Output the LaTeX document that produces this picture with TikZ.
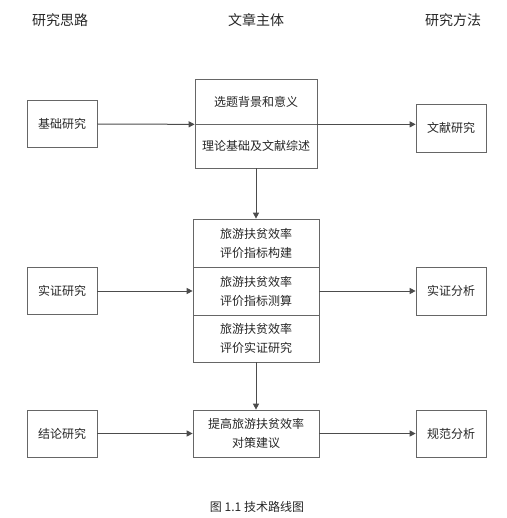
\documentclass[tikz,border=0pt]{standalone}
\usepackage{fontspec}
\setmainfont{Noto Sans CJK SC}
\usetikzlibrary{arrows.meta}
\begin{document}
\begin{tikzpicture}[x=1pt,y=-1pt,
  box/.style={draw=black!60,line width=0.7pt,inner sep=0pt,align=center,font=\fontsize{12}{19}\selectfont,text=black!85},
  side/.style={box,minimum width=70pt,minimum height=47pt},
  hdr/.style={font=\fontsize{14}{16}\selectfont,text=black!85},
  conn/.style={draw=black!70,line width=1pt,-{Triangle[length=6pt,width=6pt]}}]
\useasboundingbox (0,0) rectangle (506,518);
% headers
\node[hdr] (h1) at (60,20) {研究思路};
\node[hdr] (h2) at (256,20) {文章主体};
\node[hdr] (h3) at (453,20) {研究方法};
% left boxes
\node[side] (l1) at (62,124) {基础研究};
\node[side] (l2) at (62,291) {实证研究};
\node[side] (l3) at (62,433.5) {结论研究};
% right boxes
\node[side,minimum height=48pt] (r1) at (451,128) {文献研究};
\node[side,minimum height=48pt] (r2) at (451,291) {实证分析};
\node[side] (r3) at (451,433.5) {规范分析};
% main column
\node[box,minimum width=122pt,minimum height=45pt] (t1) at (256,101.5) {选题背景和意义};
\node[box,minimum width=122pt,minimum height=44pt] (t2) at (256,146) {理论基础及文献综述};
\node[box,minimum width=126pt,minimum height=48pt] (m1) at (256,243) {旅游扶贫效率\\评价指标构建};
\node[box,minimum width=126pt,minimum height=48pt] (m2) at (256,291) {旅游扶贫效率\\评价指标测算};
\node[box,minimum width=126pt,minimum height=47pt] (m3) at (256,338.5) {旅游扶贫效率\\评价实证研究};
\node[box,minimum width=126pt,minimum height=47pt] (b) at (256,433.5) {提高旅游扶贫效率\\对策建议};
% connectors
\draw[conn] (l1.east) -- (t1.south west);
\draw[conn] (t1.south east) -- (r1.west |- t1.south east);
\draw[conn] (t2.south) -- (m1.north);
\draw[conn] (l2.east) -- (m2.west);
\draw[conn] (m2.east) -- (r2.west);
\draw[conn] (m3.south) -- (b.north);
\draw[conn] (l3.east) -- (b.west);
\draw[conn] (b.east) -- (r3.west);
% caption
\node[font=\fontsize{12}{14}\selectfont,text=black!85] (cap) at (257,507) {图 1.1 技术路线图};
\end{tikzpicture}
\end{document}
